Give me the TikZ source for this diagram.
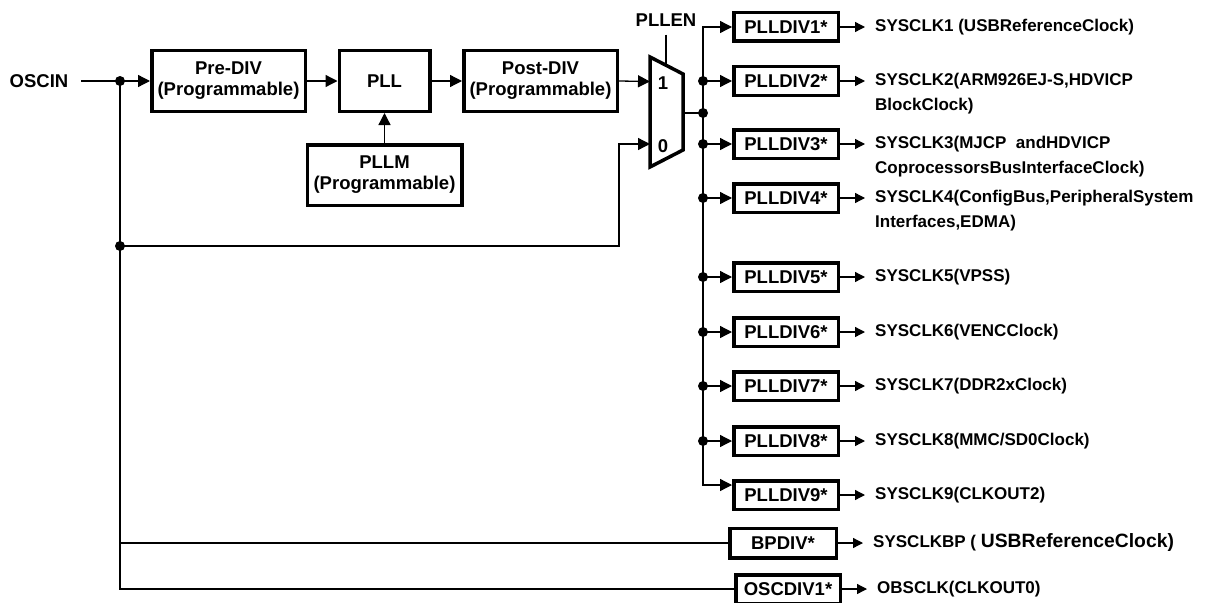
\documentclass[tikz,border=0pt]{standalone}
\usepackage{fontspec}
\setmainfont{Liberation Sans}
\usetikzlibrary{arrows.meta,positioning}

\tikzset{
  blk/.style={draw, line width=3.5pt, align=center, inner sep=0pt, font=\fontsize{18.5}{21}\selectfont\bfseries},
  divbox/.style={blk, minimum width=104.5pt, minimum height=28.5pt},
  txt/.style={inner sep=0pt, font=\fontsize{18.5}{21}\selectfont\bfseries},
  lbl/.style={align=left, inner xsep=10pt, inner ysep=0pt, anchor=west, font=\fontsize{17}{25.5}\selectfont\bfseries},
  wire/.style={line width=1.3pt},
  feed/.style={wire, -{Triangle[length=12pt,width=12pt]}},
  outarr/.style={wire, -{Triangle[length=10pt,width=10pt]}},
}

\begin{document}
\begin{tikzpicture}[x=1pt, y=-1pt, node distance=156pt, on grid]
   \useasboundingbox (0,0) rectangle (1220,602);
   \node[blk, minimum width=153.5pt, minimum height=60.5pt] (prediv) at (228.5,81) {Pre-DIV\\(Programmable)};
   \node[blk, minimum width=90.5pt, minimum height=60.5pt] (pll) [right=of prediv] {PLL};
   \node[blk, minimum width=153.5pt, minimum height=60.5pt] (postdiv) [right=of pll] {Post-DIV\\(Programmable)};
   \node[blk, minimum width=154.5pt, minimum height=60.5pt] (pllm) [below=94pt of pll] {PLLM\\(Programmable)};
   \node[txt, inner xsep=13pt] (oscin) at (39,81) {OSCIN};

   \coordinate (m1) at (650,57);
   \coordinate (m2) at (683,74);
   \coordinate (m3) at (683,150);
   \coordinate (m4) at (650,167);
   \draw[line width=3.5pt] (m1) -- (m2) -- (m3) -- (m4) -- cycle;
   \node[txt] (in1) at (663,83) {1};
   \node[txt] (in0) at (663,146) {0};
   \node[txt, inner ysep=8pt] (pllen) at (666,20) {PLLEN};
   \coordinate (sel) at (666,65);
   \coordinate (mux1) at (650,81.5);
   \coordinate (mux0) at (650,144);
   \coordinate (muxout) at (683,113);
   \coordinate (bus) at (703,113);

   \node[divbox] (a1) at (786,27) {PLLDIV1*};
   \node[divbox] (a2) [below=54pt of a1] {PLLDIV2*};
   \node[divbox] (a3) [below=63pt of a2] {PLLDIV3*};
   \node[divbox] (a4) [below=54pt of a3] {PLLDIV4*};
   \node[divbox] (a5) [below=79pt of a4] {PLLDIV5*};
   \node[divbox] (a6) [below=55pt of a5] {PLLDIV6*};
   \node[divbox] (a7) [below=54pt of a6] {PLLDIV7*};
   \node[divbox] (a8) [below=55pt of a7] {PLLDIV8*};
   \node[divbox] (a9) [below=54pt of a8] {PLLDIV9*};
   \node[divbox, minimum width=106.5pt, minimum height=29.5pt] (bpdiv) at (783,543) {BPDIV*};
   \node[divbox] (oscdiv) at (788,589) {OSCDIV1*};

   \node[lbl] (s1) at ([xshift=25pt]a1.east) {SYSCLK1 (USBReferenceClock)};
   \node[lbl] (s2) at ([xshift=25pt,yshift=-12.75pt]a2.east) {SYSCLK2(ARM926EJ-S,HDVICP\\BlockClock)};
   \node[lbl] (s3) at ([xshift=25pt,yshift=-12.75pt]a3.east) {SYSCLK3(MJCP\ \ andHDVICP\\CoprocessorsBusInterfaceClock)};
   \node[lbl] (s4) at ([xshift=25pt,yshift=-12.75pt]a4.east) {SYSCLK4(ConfigBus,PeripheralSystem\\Interfaces,EDMA)};
   \node[lbl] (s5) at ([xshift=25pt]a5.east) {SYSCLK5(VPSS)};
   \node[lbl] (s6) at ([xshift=25pt]a6.east) {SYSCLK6(VENCClock)};
   \node[lbl] (s7) at ([xshift=25pt]a7.east) {SYSCLK7(DDR2xClock)};
   \node[lbl] (s8) at ([xshift=25pt]a8.east) {SYSCLK8(MMC/SD0Clock)};
   \node[lbl] (s9) at ([xshift=25pt]a9.east) {SYSCLK9(CLKOUT2)};
   \node[lbl] (sbp) at ([xshift=25pt]bpdiv.east) {SYSCLKBP ( {\fontsize{19.3}{22}\selectfont USBReferenceClock)}};
   \node[lbl] (sobs) at ([xshift=25pt]oscdiv.east) {OBSCLK(CLKOUT0)};

   \coordinate (j0) at (120,81);
   \coordinate (j1) at (120,246);
   \coordinate (fb) at (619,246);

   \draw[wire] (oscin.east) -- (j0);
   \draw[feed] (j0) -- (prediv.west);
   \draw[feed] (prediv) -- (pll);
   \draw[feed] (pll) -- (postdiv);
   \draw[feed] (pllm) -- (pll);
   \draw[feed] (postdiv.east) -- (mux1);
   \draw[wire] (pllen.south) -- (sel);
   \draw[wire] (j0) |- (oscdiv.west);
   \draw[wire] (j0 |- bpdiv.west) -- (bpdiv.west);
   \draw[feed] (j1) -- (fb) |- (mux0);
   \draw[wire] (muxout) -- (bus);
   \draw[feed] (bus) |- (a1.west);
   \draw[feed] (bus) |- ([yshift=10pt]a9.west);
   \draw[feed] (bus |- a2.west) -- (a2.west);
   \draw[feed] (bus |- a3.west) -- (a3.west);
   \draw[feed] (bus |- a4.west) -- (a4.west);
   \draw[feed] (bus |- a5.west) -- (a5.west);
   \draw[feed] (bus |- a6.west) -- (a6.west);
   \draw[feed] (bus |- a7.west) -- (a7.west);
   \draw[feed] (bus |- a8.west) -- (a8.west);

   \fill (j0) circle (5pt);
   \fill (j1) circle (5pt);
   \fill (bus) circle (5pt);
   \fill (bus |- a2.west) circle (5pt);
   \fill (bus |- a3.west) circle (5pt);
   \fill (bus |- a4.west) circle (5pt);
   \fill (bus |- a5.west) circle (5pt);
   \fill (bus |- a6.west) circle (5pt);
   \fill (bus |- a7.west) circle (5pt);
   \fill (bus |- a8.west) circle (5pt);

   \draw[outarr] (a1.east) -- (a1.east -| s1.west);
   \draw[outarr] (a2.east) -- (a2.east -| s2.west);
   \draw[outarr] (a3.east) -- (a3.east -| s3.west);
   \draw[outarr] (a4.east) -- (a4.east -| s4.west);
   \draw[outarr] (a5.east) -- (s5.west);
   \draw[outarr] (a6.east) -- (s6.west);
   \draw[outarr] (a7.east) -- (s7.west);
   \draw[outarr] (a8.east) -- (s8.west);
   \draw[outarr] (a9.east) -- (s9.west);
   \draw[outarr] (bpdiv.east) -- (sbp.west);
   \draw[outarr] (oscdiv.east) -- (sobs.west);
\end{tikzpicture}
\end{document}
